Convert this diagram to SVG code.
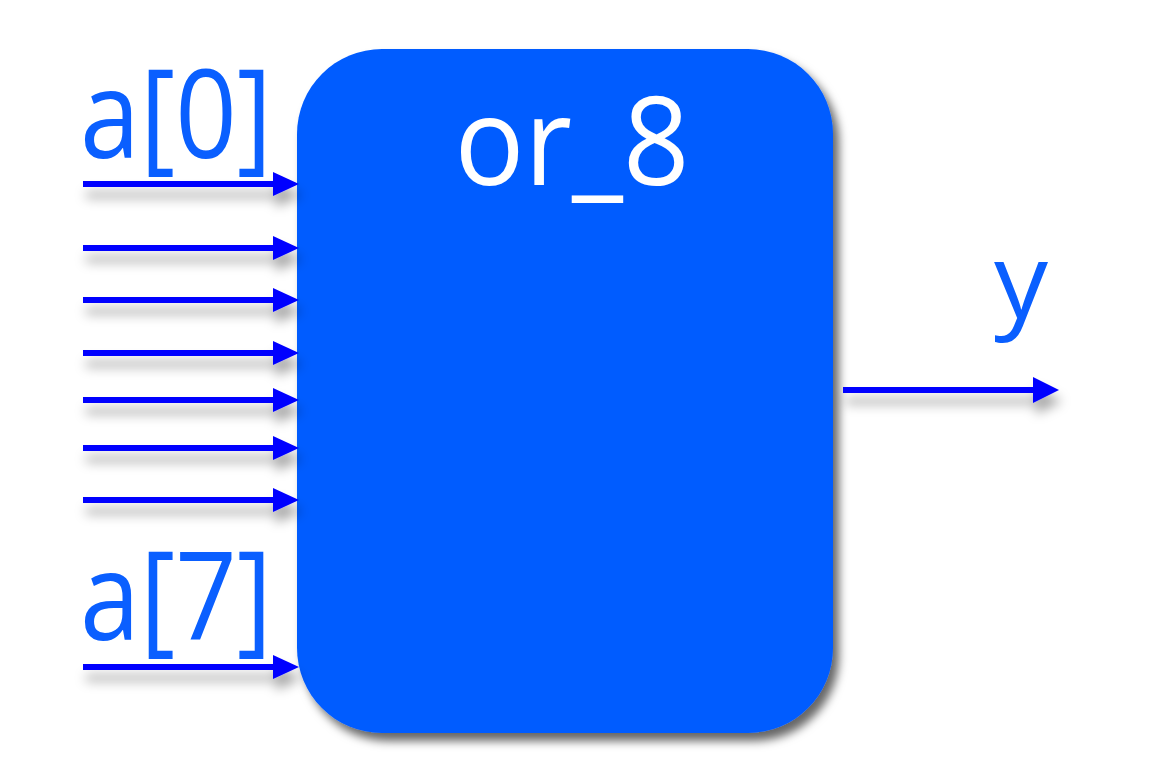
<svg xmlns="http://www.w3.org/2000/svg" width="1161" height="762" viewBox="0 0 1161 762">
<style>
.lbl{font-family:"Open Sans","Noto Sans",sans-serif;font-size:122px;fill:#0A5FFF}
.ttl{font-family:"Open Sans","Noto Sans",sans-serif;font-size:122px;fill:#FFFFFF}
.wire{stroke:#0000FF;stroke-width:6;fill:none}
.head{fill:#0000FF}
</style>
<defs>
<filter id="boxsh" x="-10%" y="-10%" width="125%" height="125%">
<feDropShadow dx="6" dy="8" stdDeviation="5" flood-color="#000" flood-opacity="0.6"/>
</filter>
<filter id="wiresh" x="-10%" y="-100%" width="120%" height="400%">
<feDropShadow dx="3" dy="11" stdDeviation="6" flood-color="#000" flood-opacity="0.35"/>
</filter>
</defs>
<rect width="1161" height="762" fill="#FFFFFF"/>
<g id="or_8">
<rect x="297" y="49" width="536" height="684" rx="85" ry="85" fill="#005CFF" filter="url(#boxsh)"/>
<text class="ttl" x="572" y="185" text-anchor="middle" textLength="235" lengthAdjust="spacingAndGlyphs">or_8</text>
</g>
<g id="labels">
<text class="lbl" x="80" y="158" textLength="192" lengthAdjust="spacingAndGlyphs">a[0]</text>
<text class="lbl" x="80" y="640" textLength="192" lengthAdjust="spacingAndGlyphs">a[7]</text>
<text class="lbl" x="994" y="318" style="font-size:104px" textLength="54" lengthAdjust="spacingAndGlyphs">y</text>
</g>
<g id="connectors" filter="url(#wiresh)">
<g id="a0"><line class="wire" x1="83" y1="184" x2="276" y2="184"/><polygon class="head" points="273,172 299,184 273,196"/></g>
<g id="a1"><line class="wire" x1="83" y1="248" x2="276" y2="248"/><polygon class="head" points="273,236 299,248 273,260"/></g>
<g id="a2"><line class="wire" x1="83" y1="300" x2="276" y2="300"/><polygon class="head" points="273,288 299,300 273,312"/></g>
<g id="a3"><line class="wire" x1="83" y1="353" x2="276" y2="353"/><polygon class="head" points="273,341 299,353 273,365"/></g>
<g id="a4"><line class="wire" x1="83" y1="400" x2="276" y2="400"/><polygon class="head" points="273,388 299,400 273,412"/></g>
<g id="a5"><line class="wire" x1="83" y1="448" x2="276" y2="448"/><polygon class="head" points="273,436 299,448 273,460"/></g>
<g id="a6"><line class="wire" x1="83" y1="500" x2="276" y2="500"/><polygon class="head" points="273,488 299,500 273,512"/></g>
<g id="a7"><line class="wire" x1="83" y1="667" x2="276" y2="667"/><polygon class="head" points="273,655 299,667 273,679"/></g>
<g id="y"><line class="wire" x1="843" y1="390" x2="1036" y2="390"/><polygon class="head" points="1033,377 1059,390 1033,403"/></g>
</g>
</svg>
